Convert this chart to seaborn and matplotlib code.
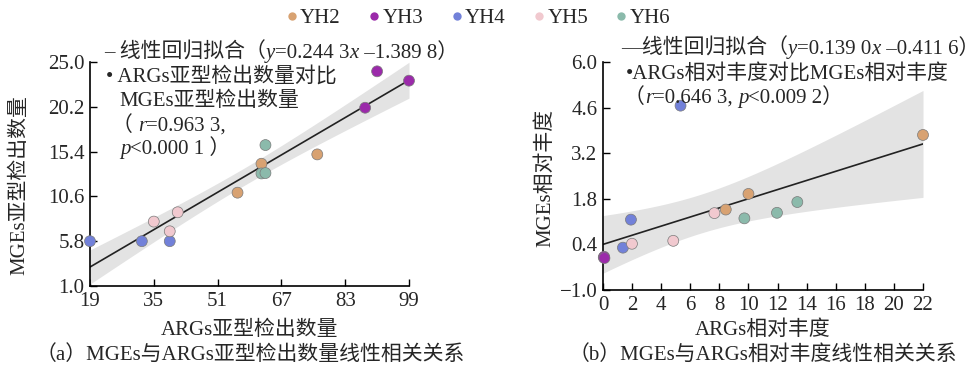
import numpy as np
import pandas as pd
import matplotlib
matplotlib.use("Agg")
import matplotlib.pyplot as plt
import seaborn as sns
from matplotlib.lines import Line2D

# Sample groups and their colours
groups = ["YH2", "YH3", "YH4", "YH5", "YH6"]
group_colors = ["#d8a272", "#9b2aaa", "#7281d9", "#f1c9cf", "#8bbaab"]

# (a) subtype counts: ARGs vs MGEs
a_group = ["YH4"] * 3 + ["YH5"] * 3 + ["YH2"] * 3 + ["YH6"] * 3 + ["YH3"] * 3
a_args = [19, 32, 39, 35, 39, 41, 56, 62, 76, 62, 63, 63, 88, 91, 99]
a_mges = [5.8, 5.8, 5.8, 7.9, 6.86, 8.9, 11.0, 14.1, 15.1, 13.06, 13.1, 16.1, 20.1, 24.0, 23.0]

# (b) relative abundance: ARGs vs MGEs
b_group = ["YH4"] * 3 + ["YH5"] * 3 + ["YH2"] * 3 + ["YH6"] * 3 + ["YH3"] * 3
b_args = [1.37, 1.92, 5.33, 1.99, 4.83, 7.66, 8.44, 10.0, 22.0, 9.72, 11.96, 13.36, 0.05, 0.08, 0.1]
b_mges = [0.3, 1.16, 4.66, 0.42, 0.51, 1.36, 1.47, 1.95, 3.76, 1.2, 1.37, 1.7, 0.0, 0.02, -0.02]

a_xticks = [19, 35, 51, 67, 83, 99]
a_yticks = [1.0, 5.8, 10.6, 15.4, 20.2, 25.0]
b_xticks = list(range(0, 23, 2))
b_yticks = [-1.0, 0.4, 1.8, 3.2, 4.6, 6.0]

sns.set_theme(style="ticks")
plt.rcParams["font.family"] = ["Liberation Serif", "Noto Sans CJK SC"]
plt.rcParams["axes.unicode_minus"] = True

FS = 15
W, H = 978, 370
palette = dict(zip(groups, group_colors))

fig = plt.figure(figsize=(W / 100, H / 100), dpi=100)
ax_a = fig.add_axes([90 / W, 1 - 286 / H, (409 - 90) / W, (286 - 62) / H])
ax_b = fig.add_axes([603 / W, 1 - 290 / H, (923 - 603) / W, (290 - 62) / H])

df_a = pd.DataFrame({"x": a_args, "y": a_mges, "group": a_group})
df_b = pd.DataFrame({"x": b_args, "y": b_mges, "group": b_group})


def confidence_band(ax, x, y, x_lo, x_hi):
    """95 % confidence band of the OLS mean line (t-based)."""
    x = np.asarray(x, float)
    y = np.asarray(y, float)
    n = len(x)
    slope, icpt = np.polyfit(x, y, 1)
    resid = y - (slope * x + icpt)
    s = np.sqrt(np.sum(resid ** 2) / (n - 2))
    sxx = np.sum((x - x.mean()) ** 2)
    grid = np.linspace(x_lo, x_hi, 200)
    se = s * np.sqrt(1 / n + (grid - x.mean()) ** 2 / sxx)
    tval = 2.16  # t(0.975, df=13)
    fit = slope * grid + icpt
    ax.fill_between(grid, fit - tval * se, fit + tval * se, color="#e3e3e3",
                    lw=0, zorder=1)


def draw_panel(ax, df, xlim, ylim, xticks, yticks):
    confidence_band(ax, df["x"], df["y"], xlim[0], xlim[1])
    sns.regplot(data=df, x="x", y="y", ax=ax, scatter=False, ci=None,
                truncate=True, color="#222222", line_kws=dict(lw=1.2, zorder=2))
    sns.scatterplot(data=df, x="x", y="y", hue="group", hue_order=groups,
                    palette=palette, s=62, edgecolor="#7a7a7a", linewidth=0.5,
                    legend=False, ax=ax, zorder=3, clip_on=False)
    ax.set_xlim(*xlim)
    ax.set_ylim(*ylim)
    ax.set_xticks(xticks)
    ax.set_yticks(yticks)
    ax.set_yticklabels(["{:.1f}".format(v).replace("-", "\u2212") for v in yticks])
    ax.set_xticklabels([str(v) for v in xticks])
    ax.tick_params(direction="in", length=5, width=1, labelsize=FS, pad=4, color="black")
    for s in ("top", "right"):
        ax.spines[s].set_visible(False)
    for s in ("left", "bottom"):
        ax.spines[s].set_linewidth(1.2)
        ax.spines[s].set_color("black")
    ax.set_xlabel("")
    ax.set_ylabel("")


draw_panel(ax_a, df_a, (19, 99), (1.0, 25.0), a_xticks, a_yticks)
draw_panel(ax_b, df_b, (0, 22), (-1.0, 6.0), b_xticks, b_yticks)

renderer = fig.canvas.get_renderer()


def rich(x_px, y_px, segments):
    """Left-aligned line of text made of (text, italic) runs, baseline at y_px."""
    x = x_px
    for s, it in segments:
        t = fig.text(x / W, 1 - y_px / H, s, ha="left", va="baseline", fontsize=FS,
                     fontstyle="italic" if it else "normal")
        x += t.get_window_extent(renderer).width


# Axis titles and captions
fig.text(250 / W, 1 - 330 / H, "ARGs亚型检出数量", ha="center", va="center", fontsize=FS)
fig.text(250 / W, 1 - 355 / H, "（a）MGEs与ARGs亚型检出数量线性相关关系", ha="center", va="center", fontsize=FS)
fig.text(20 / W, 1 - 185 / H, "MGEs亚型检出数量", ha="center", va="center", rotation=90, fontsize=FS)

fig.text(763 / W, 1 - 330 / H, "ARGs相对丰度", ha="center", va="center", fontsize=FS)
fig.text(763 / W, 1 - 355 / H, "（b）MGEs与ARGs相对丰度线性相关关系", ha="center", va="center", fontsize=FS)
fig.text(545 / W, 1 - 178 / H, "MGEs相对丰度", ha="center", va="center", rotation=90, fontsize=FS)

# Fit annotations, panel (a)
rich(104, 58, [("– 线性回归拟合（", False), ("y", True), ("=0.244 3", False),
               ("x", True), (" –1.389 8）", False)])
rich(106, 82, [("• ARGs亚型检出数量对比", False)])
rich(119, 106, [("MGEs亚型检出数量", False)])
rich(112, 131, [("（ ", False), ("r", True), ("=0.963 3,", False)])
rich(120, 154, [("p", True), ("<0.000 1 ）", False)])

# Fit annotations, panel (b)
rich(621, 54, [("—线性回归拟合（", False), ("y", True), ("=0.139 0", False),
               ("x", True), (" –0.411 6）", False)])
rich(626, 79, [("•ARGs相对丰度对比MGEs相对丰度", False)])
rich(624, 103, [("（", False), ("r", True), ("=0.646 3, ", False), ("p", True),
                ("<0.009 2）", False)])

# Shared group legend
handles = [Line2D([], [], marker="o", ls="", color=c, markersize=6, markeredgewidth=0)
           for c in group_colors]
fig.legend(handles, groups, loc="center", bbox_to_anchor=(478 / W, 1 - 18 / H), ncol=5,
           frameon=False, handletextpad=0.1, columnspacing=1.3, handlelength=0.6,
           fontsize=FS, borderpad=0, borderaxespad=0)

fig.savefig("out.png", dpi=100)
